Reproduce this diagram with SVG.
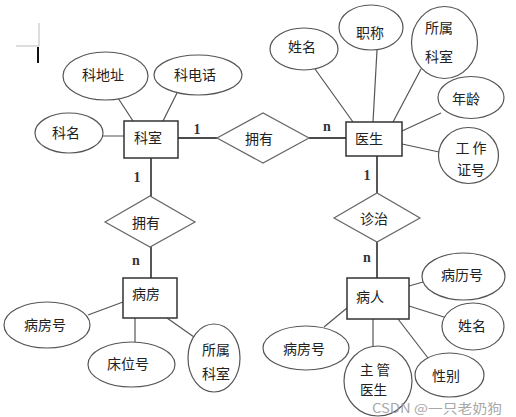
<svg xmlns="http://www.w3.org/2000/svg" width="516" height="417" viewBox="0 0 516 417">
<style>
.ent{fill:#fff;stroke:#333;stroke-width:1.5}
.att{fill:#fff;stroke:#555;stroke-width:1.2}
.rel{fill:#fff;stroke:#666;stroke-width:1.2}
.t{font-family:"Noto Sans CJK SC","Noto Sans",sans-serif;font-size:14px;fill:#222;text-anchor:middle}
.ts{font-family:"Noto Sans CJK SC","Noto Sans",sans-serif;font-size:13.5px;fill:#222}
.lb{font-family:"Liberation Serif",serif;font-size:14px;font-weight:bold;fill:#333;text-anchor:middle}
.al{stroke:#555;stroke-width:1.2;fill:none}
.rl{stroke:#111;stroke-width:1.4;fill:none}
</style>
<rect width="516" height="417" fill="#fff"/>
<g id="cursor">
<path d="M16 46H39V23" stroke="#bbb" stroke-width="1" fill="none"/>
<path d="M38 47V63" stroke="#111" stroke-width="2"/>
</g>
<g id="connectors">
<path class="al" d="M118 98L133 121M177 93L163 121M103 136H124"/>
<path class="al" d="M315 69L353 122M377 50L373 122M421 69L393 122M441 113L402 131M439 152L402 144"/>
<path class="al" d="M88 315L123 302M135 318V342M167 318L194 337"/>
<path class="al" d="M430 280L409 286M409 306L447 318M398 319L428 358M373 319V347M347 308L324 327"/>
<path class="rl" d="M178 138H217M309 138H346M151 158V197M151 247V278M377 156V193M377 242V278"/>
<text class="lb" x="197" y="134">1</text>
<text class="lb" x="327" y="131">n</text>
<text class="lb" x="137" y="182">1</text>
<text class="lb" x="136" y="265">n</text>
<text class="lb" x="367" y="180">1</text>
<text class="lb" x="367" y="262">n</text>
</g>
<g id="keshi"><rect class="ent" x="124" y="121" width="54" height="37"/><text class="t" x="148" y="143">科室</text></g>
<g id="yisheng"><rect class="ent" x="346" y="122" width="56" height="34"/><text class="t" x="369" y="144">医生</text></g>
<g id="bingfang"><rect class="ent" x="123" y="278" width="54" height="40"/><text class="t" x="146" y="299">病房</text></g>
<g id="bingren"><rect class="ent" x="347" y="278" width="62" height="41"/><text class="t" x="370" y="302">病人</text></g>
<g id="yongyou1"><polygon class="rel" points="217,138 263,113 309,138 263,163"/><text class="t" x="259" y="144">拥有</text></g>
<g id="yongyou2"><polygon class="rel" points="105,222 150,196 195,222 150,247"/><text class="t" x="146" y="228">拥有</text></g>
<g id="zhenzhi"><polygon class="rel" points="334,218 377,193 420,218 377,242"/><text class="t" x="374" y="224">诊治</text></g>
<g id="kedizhi"><ellipse class="att" cx="105.5" cy="76" rx="42.5" ry="24"/><text class="t" x="103" y="80">科地址</text></g>
<g id="kedianhua"><ellipse class="att" cx="198" cy="75" rx="44" ry="20"/><text class="t" x="195" y="80">科电话</text></g>
<g id="keming"><ellipse class="att" cx="69" cy="133" rx="34" ry="20"/><text class="t" x="66" y="138">科名</text></g>
<g id="xingming1"><ellipse class="att" cx="304" cy="49" rx="34" ry="21"/><text class="t" x="302" y="52">姓名</text></g>
<g id="zhicheng"><ellipse class="att" cx="371" cy="27.5" rx="32" ry="22.5"/><text class="t" x="370" y="38">职称</text></g>
<g id="suoshu1"><ellipse class="att" cx="444.5" cy="42.5" rx="33" ry="36"/><text class="t" x="439" y="33">所属</text><text class="t" x="439" y="62">科室</text></g>
<g id="nianling"><ellipse class="att" cx="471" cy="97.5" rx="33" ry="21"/><text class="t" x="466" y="104">年龄</text></g>
<g id="gongzuozheng"><ellipse class="att" cx="468.5" cy="155.5" rx="30" ry="28"/><text class="t" x="471" y="153">工 作</text><text class="t" x="471" y="175">证号</text></g>
<g id="bingfanghao1"><ellipse class="att" cx="47" cy="325" rx="43" ry="23"/><text class="t" x="45" y="330">病房号</text></g>
<g id="chuangweihao"><ellipse class="att" cx="131.5" cy="364.5" rx="43.5" ry="22.5"/><text class="t" x="128" y="369">床位号</text></g>
<g id="suoshu2"><ellipse class="att" cx="214" cy="358" rx="26" ry="34"/><text class="t" x="216" y="355">所属</text><text class="t" x="216" y="379">科室</text></g>
<g id="binglihao"><ellipse class="att" cx="463.5" cy="276.5" rx="41.5" ry="23.5"/><text class="t" x="462" y="280">病历号</text></g>
<g id="xingming2"><ellipse class="att" cx="473" cy="326.5" rx="31" ry="23.5"/><text class="t" x="472" y="331">姓名</text></g>
<g id="xingbie"><ellipse class="att" cx="449.5" cy="375" rx="34.5" ry="22"/><text class="t" x="446" y="381">性别</text></g>
<g id="zhuguan"><ellipse class="att" cx="378" cy="381" rx="34" ry="35"/><text class="ts" x="360" y="375">主 管</text><text class="ts" x="360" y="395">医生</text></g>
<g id="bingfanghao2"><ellipse class="att" cx="306" cy="348" rx="43" ry="22"/><text class="t" x="304" y="354">病房号</text></g>
<text x="372" y="413" textLength="130" lengthAdjust="spacingAndGlyphs" style="font-family:'Noto Sans CJK SC','Noto Sans',sans-serif;font-size:13px;fill:#999;opacity:0.85">CSDN @一只老奶狗</text>
</svg>
